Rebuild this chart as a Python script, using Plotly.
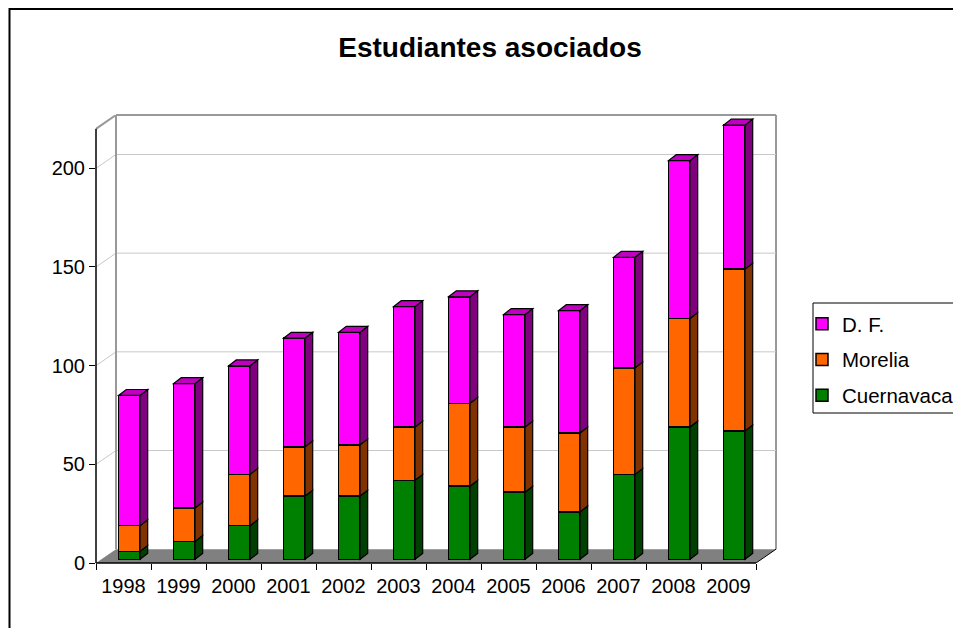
import plotly.graph_objects as go

# ---------------- data ----------------
years = ["1998", "1999", "2000", "2001", "2002", "2003",
         "2004", "2005", "2006", "2007", "2008", "2009"]
cuernavaca = [4, 9, 17, 32, 32, 40, 37, 34, 24, 43, 67, 65]
morelia = [13, 17, 26, 25, 26, 27, 42, 33, 40, 54, 55, 82]
df_vals = [66, 63, 55, 55, 57, 61, 54, 57, 62, 56, 80, 73]
y_ticks = [0, 50, 100, 150, 200]
y_max = 220

series = [
    ("Cuernavaca", cuernavaca, "#008000", "#004000", 3),
    ("Morelia", morelia, "#FF6600", "#803300", 2),
    ("D. F.", df_vals, "#FF00FF", "#800080", 1),
]
TOP_FACE = "#C000C0"

# ---------------- geometry (pseudo 3D) ----------------
OFF = 8                                       # page body margin
W, H = 961 - OFF, 628 - OFF
PL, PR, PT, PB = 96 - OFF, 776 - OFF, 115 - OFF, 563 - OFF   # plot area (figure px)
YMIN = -1.9                                   # front-axis zero sits below bar bases
BO = 5.1                                      # back wall zero offset
WD = 20 / 55                                  # wall depth in x units
XR = [-0.5, 11.5 + WD]
YR = [YMIN, y_max + BO]
BAR_OFF, BAR_W = -0.09, 0.39
DX, DY = 0.14, 3.0                            # bar depth

FONT = "Liberation Sans, Arial, sans-serif"

def px_x(p):
    return (p - OFF - PL) / (PR - PL)

def px_y(p):
    return (PB - (p - OFF)) / (PB - PT)

x = list(range(len(years)))
fig = go.Figure()
for name, vals, col, _, rank in series:
    fig.add_trace(go.Bar(
        x=x, y=vals, name=name, offset=BAR_OFF, width=BAR_W,
        marker=dict(color=col, line=dict(color="black", width=1.5)),
        legendgroup=name, legendrank=rank,
    ))

shapes = []
# floor
shapes.append(dict(type="path", xref="x", yref="y", layer="below",
                   path=f"M -0.5,{YMIN} L 11.5,{YMIN} L {XR[1]},{BO} L {-0.5+WD},{BO} Z",
                   fillcolor="#808080", line=dict(width=0)))
# back wall gridlines + left wall diagonals
for v in y_ticks[1:]:
    shapes.append(dict(type="line", xref="x", yref="y", layer="below",
                       x0=-0.5 + WD, x1=XR[1], y0=v + BO, y1=v + BO,
                       line=dict(color="#C8C8C8", width=1)))
    shapes.append(dict(type="line", xref="x", yref="y", layer="below",
                       x0=-0.5, x1=-0.5 + WD, y0=v + YMIN, y1=v + BO,
                       line=dict(color="#C8C8C8", width=1)))
# back wall frame
wall = dict(color="#999999", width=2)
shapes.append(dict(type="line", xref="x", yref="y", layer="below",
                   x0=-0.5 + WD, x1=-0.5 + WD, y0=BO, y1=y_max + BO, line=wall))
shapes.append(dict(type="line", xref="x", yref="paper", layer="below",
                   x0=-0.5 + WD, x1=XR[1], y0=1, y1=1, line=wall))
shapes.append(dict(type="line", xref="paper", yref="y", layer="below",
                   x0=1, x1=1, y0=BO, y1=y_max + BO, line=wall))
shapes.append(dict(type="line", xref="x", yref="y", layer="below",
                   x0=-0.5, x1=-0.5 + WD, y0=y_max + YMIN, y1=y_max + BO, line=wall))
# floor right diagonal and front axes
shapes.append(dict(type="line", xref="x", yref="y", layer="above",
                   x0=11.5, x1=XR[1], y0=YMIN, y1=BO, line=dict(color="black", width=1)))
shapes.append(dict(type="line", xref="x", yref="paper", layer="above",
                   x0=-0.5, x1=11.5, y0=0, y1=0, line=dict(color="black", width=1.5)))
shapes.append(dict(type="line", xref="paper", yref="y", layer="above",
                   x0=0, x1=0, y0=YMIN, y1=y_max + YMIN, line=dict(color="black", width=1.5)))

# bar depth faces
base = [0] * len(years)
for si, (name, vals, col, dark, _) in enumerate(series):
    for i, v in enumerate(vals):
        b, t = base[i], base[i] + v
        xl = i + BAR_OFF
        xr = xl + BAR_W
        shapes.append(dict(type="path", xref="x", yref="y", layer="above",
                           path=f"M {xr},{b} L {xr+DX},{b+DY} L {xr+DX},{t+DY} L {xr},{t} Z",
                           fillcolor=dark, line=dict(color="black", width=1.2)))
        if si == len(series) - 1:
            shapes.append(dict(type="path", xref="x", yref="y", layer="above",
                               path=f"M {xl},{t} L {xr},{t} L {xr+DX},{t+DY} L {xl+DX},{t+DY} Z",
                               fillcolor=TOP_FACE, line=dict(color="black", width=1.2)))
        base[i] = t

# legend frame
shapes.append(dict(type="rect", xref="paper", yref="paper", layer="above",
                   x0=px_x(813), x1=px_x(955), y0=px_y(413), y1=px_y(303),
                   line=dict(color="black", width=1), fillcolor="rgba(0,0,0,0)"))

# chart border (top-left corner visible, rest runs off the page)
shapes.append(dict(type="rect", xref="paper", yref="paper", layer="above",
                   x0=px_x(OFF + 1.5), x1=px_x(1000), y0=px_y(700), y1=px_y(OFF + 1),
                   line=dict(color="black", width=2), fillcolor="rgba(0,0,0,0)"))

fig.update_layout(
    width=W, height=H,
    margin=dict(l=PL, r=W - PR, t=PT, b=H - PB, pad=0, autoexpand=False),
    paper_bgcolor="white", plot_bgcolor="white",
    barmode="stack",
    font=dict(family=FONT, size=20, color="black"),
    title=dict(text="Estudiantes asociados", x=(490 - OFF) / W, y=1 - (47 - OFF) / H,
               xref="container", yref="container", xanchor="center", yanchor="middle",
               font=dict(family=FONT, size=28, color="black", weight="bold")),
    showlegend=True,
    legend=dict(x=px_x(802), y=px_y(304), xanchor="left", yanchor="top",
                traceorder="grouped", tracegroupgap=6,
                borderwidth=0, bgcolor="rgba(0,0,0,0)",
                font=dict(family=FONT, size=20.5, color="black")),
    xaxis=dict(range=XR, showgrid=False, zeroline=False, showline=False,
               tickmode="array", tickvals=x, ticktext=years,
               ticks="outside", ticklen=5, tickcolor="rgba(0,0,0,0)",
               minor=dict(tickmode="array", tickvals=[i - 0.5 for i in range(len(years) + 1)],
                          ticks="outside", ticklen=6, tickcolor="black", tickwidth=1,
                          showgrid=False),
               fixedrange=True),
    yaxis=dict(range=YR, showgrid=False, zeroline=False, showline=False,
               tickmode="array", tickvals=[v + YMIN for v in y_ticks],
               ticktext=[str(v) for v in y_ticks],
               ticks="outside", ticklen=6, tickcolor="black", tickwidth=1,
               fixedrange=True),
    shapes=shapes,
)

fig.write_html("out.html")
